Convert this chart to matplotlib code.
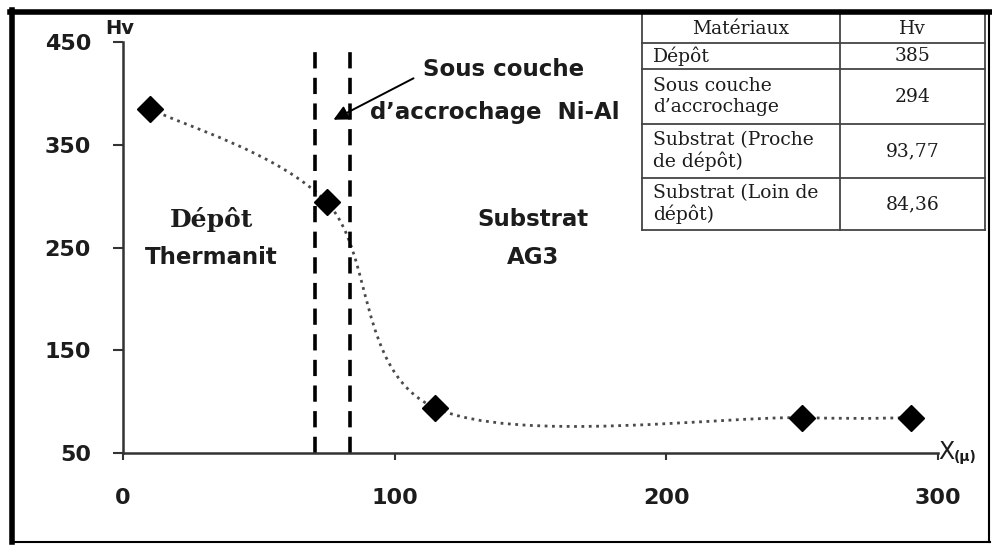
import numpy as np
import matplotlib
matplotlib.use('Agg')
import matplotlib.pyplot as plt
from matplotlib.path import Path
from matplotlib.patches import PathPatch
from matplotlib.lines import Line2D

# data
x_pos = [10, 75, 115, 250, 290]
hv = [385, 294, 93.77, 84.36, 84.36]
limits = [70.5, 83.5]          # dashed boundaries of the Ni-Al bond coat
x_ticks = [0, 100, 200, 300]
y_ticks = [50, 150, 250, 350, 450]

# table in the corner
mat_names = ['Dépôt', 'Sous couche\nd\u2019accrochage', 'Substrat (Proche\nde dépôt)',
             'Substrat (Loin de\ndépôt)']
mat_hv = ['385', '294', '93,77', '84,36']

W, H = 992, 545
fig = plt.figure(figsize=(W / 100, H / 100), dpi=100)
ax = fig.add_axes([123 / W, 1 - 453 / H, (938 - 123) / W, (453 - 42) / H])

def px(x, y):
    return x / W, 1 - y / H

sans = 'DejaVu Sans'
serif = 'DejaVu Serif'
dark = '#1c1c1c'

ax.set_xlim(0, 300)
ax.set_ylim(50, 450)
for s in ['top', 'right']:
    ax.spines[s].set_visible(False)
for s in ['left', 'bottom']:
    ax.spines[s].set_linewidth(1.8)
    ax.spines[s].set_color('#333333')
ax.set_xticks(x_ticks)
ax.set_yticks(y_ticks)
ax.tick_params(axis='x', length=5, width=1.5, pad=20, colors='#333333', labelcolor=dark)
ax.tick_params(axis='y', length=7, width=1.5, pad=16, colors='#333333', labelcolor=dark)
for lab in ax.get_xticklabels() + ax.get_yticklabels():
    lab.set_fontfamily(sans)
    lab.set_fontweight('bold')
    lab.set_fontsize(16)

# smoothed dotted curve (Bezier through points, like a smoothed Excel line)
pts = np.column_stack([x_pos, hv]).astype(float)
ext = np.vstack([pts[0], pts, pts[-1]])
verts = [pts[0]]
codes = [Path.MOVETO]
for i in range(len(pts) - 1):
    p0, p1, p2, p3 = ext[i], ext[i + 1], ext[i + 2], ext[i + 3]
    verts += [p1 + (p2 - p0) / 6, p2 - (p3 - p1) / 6, p2]
    codes += [Path.CURVE4] * 3
curve = PathPatch(Path(verts, codes), fill=False, edgecolor='#4a4a4a', lw=2,
                  linestyle=':', transform=ax.transData, clip_on=False)
ax.add_patch(curve)

ax.plot(x_pos, hv, linestyle='none', marker='D', markersize=13, color='black', zorder=5,
        clip_on=False)

for xl in limits:
    ax.plot([xl, xl], [50, 442], color='black', lw=2.6, dashes=(4.5, 2.6), clip_on=False)

# axis labels
fig.text(*px(120, 29), 'Hv', fontfamily=sans, fontweight='bold', fontsize=14,
         ha='center', va='center', color=dark)
tx = fig.text(*px(938, 452), 'X', fontfamily=sans, fontsize=17, ha='left', va='center',
              color=dark)
ax.annotate('(\u03bc)', xy=(1, 0.3), xycoords=tx, ha='left', va='center',
            fontfamily=sans, fontweight='bold', fontsize=10, color=dark)

# region labels
fig.text(*px(211, 220), 'Dépôt', fontfamily=serif, fontweight='bold', fontsize=18,
         ha='center', va='center', color=dark)
fig.text(*px(211, 257), 'Thermanit', fontfamily=sans, fontweight='bold', fontsize=16.5,
         ha='center', va='center', color=dark)
fig.text(*px(533, 220), 'Substrat', fontfamily=sans, fontweight='bold', fontsize=16.5,
         ha='center', va='center', color=dark)
fig.text(*px(533, 257), 'AG3', fontfamily=sans, fontweight='bold', fontsize=16.5,
         ha='center', va='center', color=dark)
fig.text(*px(423, 70), 'Sous couche', fontfamily=sans, fontweight='bold', fontsize=16.5,
         ha='left', va='center', color=dark)
fig.text(*px(370, 112), 'd\u2019accrochage  Ni-Al', fontfamily=sans, fontweight='bold',
         fontsize=16.5, ha='left', va='center', color=dark)
ax.annotate('', xy=px(331, 121), xytext=px(416, 77), xycoords='figure fraction',
            textcoords='figure fraction',
            arrowprops=dict(arrowstyle='-|>', color='black', lw=1.4, mutation_scale=22))

# table
col_x = [642, 840, 985]
row_y = [12, 43, 69, 124, 178, 230]
tline = dict(color='#444444', lw=1.3, transform=fig.transFigure)
for y in row_y:
    fig.add_artist(Line2D([col_x[0] / W, col_x[2] / W], [1 - y / H, 1 - y / H], **tline))
for x in col_x:
    fig.add_artist(Line2D([x / W, x / W], [1 - row_y[0] / H, 1 - row_y[-1] / H], **tline))
fig.text(*px((col_x[0] + col_x[1]) / 2, (row_y[0] + row_y[1]) / 2 + 1), 'Matériaux',
         fontfamily=serif, fontsize=13.5, ha='center', va='center', color=dark)
fig.text(*px((col_x[1] + col_x[2]) / 2, (row_y[0] + row_y[1]) / 2 + 1), 'Hv',
         fontfamily=serif, fontsize=13.5, ha='center', va='center', color=dark)
for i, (name, val) in enumerate(zip(mat_names, mat_hv)):
    yc = (row_y[i + 1] + row_y[i + 2]) / 2
    fig.text(*px(col_x[0] + 11, yc), name, fontfamily=serif, fontsize=13.5, ha='left',
             va='center', color=dark, linespacing=1.15)
    fig.text(*px((col_x[1] + col_x[2]) / 2, yc), val, fontfamily=serif, fontsize=13.5,
             ha='center', va='center', color=dark)

# outer frame
frame = dict(color='black', transform=fig.transFigure)
fig.add_artist(Line2D([12 / W, 12 / W], [1 - 10 / H, 1 - 542 / H], lw=4, **frame))
fig.add_artist(Line2D([10 / W, 990 / W], [1 - 12 / H, 1 - 12 / H], lw=4, **frame))
fig.add_artist(Line2D([989 / W, 989 / W], [1 - 12 / H, 1 - 542 / H], lw=1.5, **frame))
fig.add_artist(Line2D([12 / W, 990 / W], [1 - 542 / H, 1 - 542 / H], lw=1.5, **frame))

fig.savefig('out.png', dpi=100)
